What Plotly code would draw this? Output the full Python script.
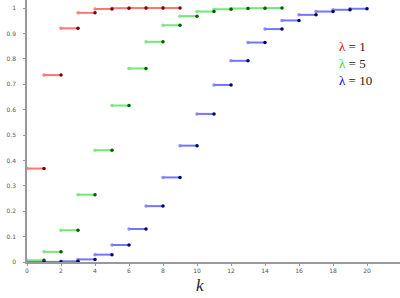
import plotly.graph_objects as go

cdf_l1 = [0.368, 0.736, 0.920, 0.981, 0.996, 0.9994, 0.9999, 1.0, 1.0]
cdf_l5 = [0.0067, 0.040, 0.125, 0.265, 0.440, 0.616, 0.762, 0.867, 0.932,
          0.968, 0.986, 0.995, 0.998, 0.9993, 0.9998]
cdf_l10 = [0.00005, 0.0005, 0.0028, 0.0103, 0.029, 0.067, 0.130, 0.220, 0.333,
           0.458, 0.583, 0.697, 0.792, 0.864, 0.917, 0.951, 0.973, 0.986,
           0.993, 0.997]
x_ticks = list(range(0, 23, 2))
y_ticks = [0, 0.1, 0.2, 0.3, 0.4, 0.5, 0.6, 0.7, 0.8, 0.9, 1]
y_tick_text = ["0", "0.1", "0.2", "0.3", "0.4", "0.5", "0.6", "0.7", "0.8", "0.9", "1"]
legend_labels = ["1", "5", "10"]
legend_colors = ["red", "#22dd22", "blue"]

series = [
    (cdf_l1, "rgba(255,60,60,0.7)", "rgba(255,120,120,0.9)", "#7a0000"),
    (cdf_l5, "rgba(60,220,60,0.7)", "rgba(120,230,120,0.9)", "#006000"),
    (cdf_l10, "rgba(70,70,255,0.75)", "rgba(130,130,255,0.9)", "#00006e"),
]

fig = go.Figure()
for vals, lc, lmc, rmc in series:
    xs, ys = [], []
    for k, v in enumerate(vals):
        xs += [k, k + 1, None]
        ys += [v, v, None]
    fig.add_trace(go.Scatter(x=xs, y=ys, mode="lines",
                             line=dict(color=lc, width=2),
                             cliponaxis=False, showlegend=False, hoverinfo="skip"))
    fig.add_trace(go.Scatter(x=list(range(len(vals))), y=vals, mode="markers",
                             marker=dict(color=lmc, size=3.5),
                             cliponaxis=False, showlegend=False))
    fig.add_trace(go.Scatter(x=[k + 1 for k in range(len(vals))], y=vals, mode="markers",
                             marker=dict(color=rmc, size=3.5),
                             cliponaxis=False, showlegend=False))

fig.update_layout(
    width=400, height=298,
    margin=dict(l=27, r=0, t=0, b=36),
    paper_bgcolor="white", plot_bgcolor="white",
    xaxis=dict(range=[0, 21.94], tickvals=x_ticks, showgrid=False, zeroline=False,
               showline=True, linecolor="#999999", linewidth=1.5,
               ticks="outside", ticklen=2, tickcolor="#999999",
               tickfont=dict(size=6, color="#555555", family="DejaVu Sans")),
    yaxis=dict(range=[0, 1.0315], tickvals=y_ticks, ticktext=y_tick_text,
               showgrid=False, zeroline=False,
               showline=True, linecolor="#999999", linewidth=1.5,
               ticks="outside", ticklen=2, tickcolor="#999999",
               ticklabelstandoff=6,
               tickfont=dict(size=6, color="#555555", family="DejaVu Sans")),
)

legend_text = "<br>".join(
    f"<span style='color:{c}'>λ</span> = {n}" for c, n in zip(legend_colors, legend_labels)
)
fig.add_annotation(xref="paper", yref="paper", x=(337 - 27) / 373,
                   y=(298 - 36 - 63) / 262, xanchor="left", yanchor="middle",
                   align="left", showarrow=False, text=legend_text,
                   font=dict(size=13, color="#222222", family="Liberation Serif"))

fig.add_annotation(xref="paper", yref="paper", x=(200 - 27) / 373, y=-(285 - 262) / 262,
                   xanchor="center", yanchor="middle", showarrow=False,
                   text="<i>k</i>", font=dict(size=17, color="#222222", family="Liberation Serif"))

fig.write_html("out.html")
